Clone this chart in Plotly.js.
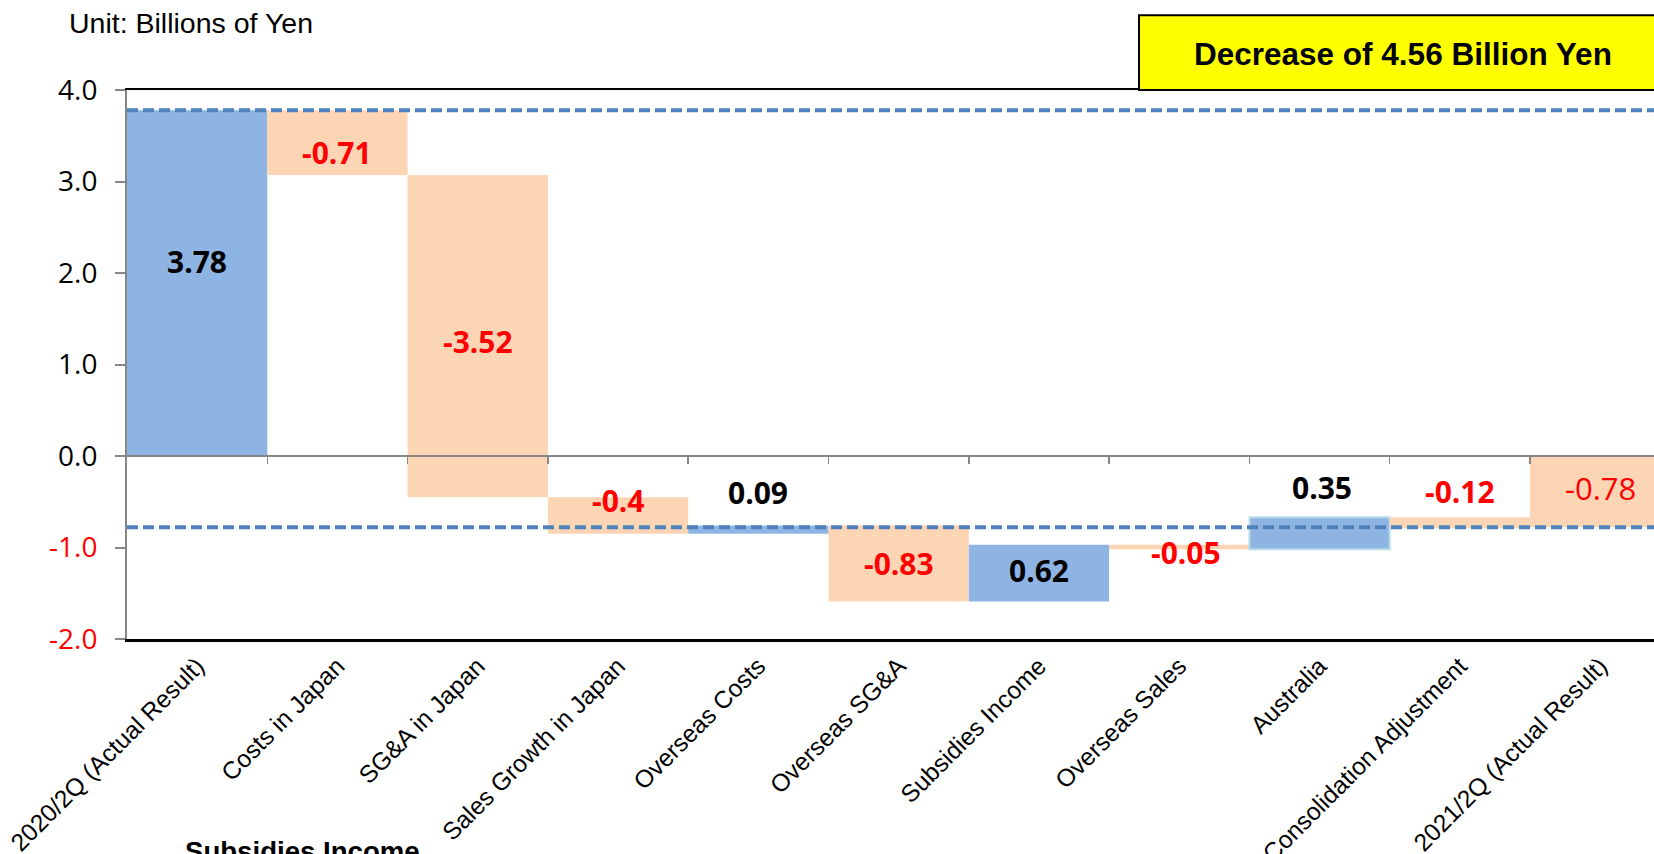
<!DOCTYPE html>
<html><head><meta charset="utf-8">
<script src="https://cdn.plot.ly/plotly-3.0.1.min.js"></script>
<style>html,body{margin:0;padding:0;background:#fff;}#chart{width:1654px;height:854px;}</style>
</head><body><div id="chart"></div>
<script>
// ---- data ----
const categories = ["2020/2Q (Actual Result)", "Costs in Japan", "SG&A in Japan", "Sales Growth in Japan",
  "Overseas Costs", "Overseas SG&A", "Subsidies Income", "Overseas Sales", "Australia",
  "Consolidation Adjustment", "2021/2Q (Actual Result)"];
const values = [3.78, -0.71, -3.52, -0.4, 0.09, -0.83, 0.62, -0.05, 0.35, -0.12, -0.78];
const measures = ["absolute", "relative", "relative", "relative", "relative", "relative",
  "relative", "relative", "relative", "relative", "total"];
const valueLabels = ["3.78", "-0.71", "-3.52", "-0.4", "0.09", "-0.83", "0.62", "-0.05", "0.35", "-0.12", "-0.78"];
const yTickVals = [4, 3, 2, 1, 0, -1, -2];
const yTickLabels = ["4.0", "3.0", "2.0", "1.0", "0.0", "-1.0", "-2.0"];
const unitText = "Unit: Billions of Yen";
const summaryText = "Decrease of 4.56 Billion Yen";
const strayText = "Subsidies Income";

// ---- styles / placement (not data) ----
const BLUE = "#8EB4E3", PEACH = "#FCD5B5", RED = "#FF0000", GRAY = "#868686", DASH = "#4F81BD";
const labelAnchor = ["mid", "mid", "mid", "top", "top", "mid", "mid", "bottom", "top", "top", "top"];
const labelShift = [22, -10, -5, -3, 33, 0, 3, -3, 30, 26, -32];
const labelXShift = [0, 0, 0, 0, 0, 0, 0, 7, 2, 0, 0];
const labelBold = [true, true, true, true, true, true, true, true, true, true, false];
const borderCats = ["Australia"];

// ---- waterfall geometry from data ----
const bases = [], ys = [];
let running = 0;
values.forEach((v, i) => {
  if (measures[i] === "absolute" || measures[i] === "total") { bases.push(0); ys.push(v); running = v; }
  else { bases.push(running); ys.push(v); running += v; }
});
const colors = values.map(v => v >= 0 ? BLUE : PEACH);
const lineW = categories.map(c => borderCats.includes(c) ? 2 : 0);
const lineC = categories.map(c => borderCats.includes(c) ? "#B7DEE8" : "rgba(0,0,0,0)");

const startValue = values[0];
const endValue = values[values.length - 1];

const catW = 140.3, plotL = 127, plotR = 1654, plotT = 90, plotB = 639;
const xMax = -0.5 + (plotR - plotL) / catW;
const px2paperX = (p) => (p - plotL) / (plotR - plotL);
const px2paperY = (p) => (plotB - p) / (plotB - plotT);

const boundaryTicks = categories.slice(1).map((_, i) => i + 0.5);

const traces = [
  {
    type: "bar", x: categories, y: ys, base: bases,
    marker: { color: colors, line: { width: lineW, color: lineC } },
    hoverinfo: "skip", width: 1
  },
  { type: "scatter", x: [], y: [], xaxis: "x2", yaxis: "y", hoverinfo: "skip", showlegend: false },
  { type: "scatter", x: [], y: [], xaxis: "x3", yaxis: "y", hoverinfo: "skip", showlegend: false }
];

const annotations = values.map((v, i) => {
  const lo = Math.min(bases[i], bases[i] + ys[i]);
  const hi = Math.max(bases[i], bases[i] + ys[i]);
  const yv = labelAnchor[i] === "mid" ? (lo + hi) / 2 : (labelAnchor[i] === "top" ? hi : lo);
  return {
    x: categories[i], y: yv, xref: "x", yref: "y", showarrow: false,
    xanchor: "center", yanchor: "middle", yshift: labelShift[i], xshift: labelXShift[i],
    text: labelBold[i] ? "<b>" + valueLabels[i] + "</b>" : valueLabels[i],
    font: { family: "Open Sans, sans-serif", size: labelBold[i] ? 30 : 31, color: v < 0 ? RED : "#000" }
  };
});
annotations.push({
  xref: "paper", yref: "paper", x: px2paperX(67), y: px2paperY(23), xanchor: "left", yanchor: "middle",
  showarrow: false, text: unitText, font: { family: "Liberation Sans, Arial, sans-serif", size: 28.5, color: "#000" }
});
annotations.push({
  xref: "paper", yref: "paper", x: px2paperX(1403), y: px2paperY(54), xanchor: "center", yanchor: "middle",
  showarrow: false, text: "<b>" + summaryText + "</b>", font: { family: "Liberation Sans, Arial, sans-serif", size: 31.5, color: "#000" }
});
annotations.push({
  xref: "paper", yref: "paper", x: px2paperX(183), y: px2paperY(851), xanchor: "left", yanchor: "middle",
  showarrow: false, text: "<b>" + strayText + "</b>", font: { family: "Liberation Sans, Arial, sans-serif", size: 27.6, color: "#000" }
});

const shapes = [
  { type: "rect", xref: "paper", yref: "paper", x0: px2paperX(1139), x1: 1.05, y0: 1.0, y1: px2paperY(15.3),
    fillcolor: "#FFFF00", line: { color: "#000", width: 2 }, layer: "above" },
  { type: "line", xref: "paper", yref: "y", x0: 0, x1: 1, y0: startValue, y1: startValue,
    line: { color: DASH, width: 4, dash: "11px,5px" }, layer: "above" },
  { type: "line", xref: "paper", yref: "y", x0: 0, x1: 1, y0: endValue, y1: endValue,
    line: { color: DASH, width: 4, dash: "11px,5px" }, layer: "above" }
];

const layout = {
  width: 1654, height: 854,
  margin: { l: plotL, r: 1654 - plotR, t: plotT, b: 854 - plotB, pad: 0 },
  paper_bgcolor: "#fff", plot_bgcolor: "#fff",
  bargap: 0, showlegend: false,
  xaxis: {
    type: "category", range: [-0.5, xMax], showline: true, linecolor: "#000", linewidth: 3,
    ticks: "", showgrid: false, zeroline: false, tickangle: -45, automargin: false,
    tickfont: { family: "Liberation Sans, Arial, sans-serif", size: 24.5, color: "#000" }
  },
  xaxis2: {
    overlaying: "x", anchor: "free", position: (0 - (-2)) / (4 - (-2)), range: [-0.5, xMax],
    showline: true, linecolor: GRAY, linewidth: 2, ticks: "outside", ticklen: 7, tickwidth: 1.5,
    tickcolor: GRAY, tickmode: "array", tickvals: boundaryTicks, showticklabels: false,
    showgrid: false, zeroline: false
  },
  xaxis3: {
    overlaying: "x", side: "top", anchor: "y", range: [-0.5, xMax], showline: true,
    linecolor: "#000", linewidth: 2, ticks: "", showticklabels: false, showgrid: false, zeroline: false
  },
  yaxis: {
    range: [-2, 4], tickmode: "array", tickvals: yTickVals,
    ticktext: yTickLabels.map((t, i) => yTickVals[i] < 0 ? '<span style="color:' + RED + '">' + t + '</span>' : t),
    showline: true, linecolor: GRAY, linewidth: 2, ticks: "outside", ticklen: 10, tickwidth: 2,
    tickcolor: GRAY, showgrid: false, zeroline: false, automargin: false, ticklabelstandoff: 12,
    tickfont: { family: "Open Sans, sans-serif", size: 28, color: "#000" }
  },
  annotations: annotations,
  shapes: shapes
};

Plotly.newPlot("chart", traces, layout, { displayModeBar: false, staticPlot: true });
</script>
</body></html>
